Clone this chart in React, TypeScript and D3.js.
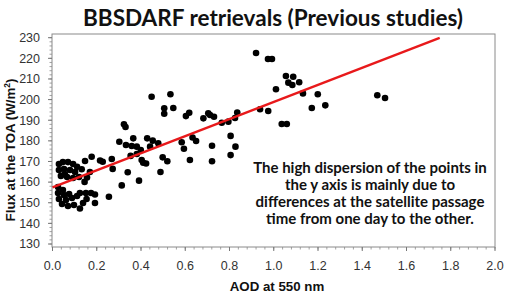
import React from "react";
import * as d3 from "d3";

// AOD at 550 nm (x) and TOA flux in W/m² (y) for each retrieval
const aod = [
  0.92, 0.974, 0.992, 1.055, 1.088, 1.066, 1.084, 1.115, 1.01, 1.132, 1.199, 1.172, 1.233, 0.975, 0.938, 1.036, 1.059, 1.468, 1.503,
  0.765, 0.795, 0.825, 0.835, 0.682, 0.704, 0.712, 0.73, 0.603, 0.618, 0.505, 0.505, 0.546, 0.533, 0.448,
  0.805, 0.827, 0.805, 0.721, 0.721, 0.584, 0.594, 0.633, 0.649, 0.621, 0.498, 0.519, 0.488,
  0.323, 0.33, 0.302, 0.365, 0.332, 0.358, 0.381, 0.428, 0.453, 0.478, 0.441, 0.399, 0.353, 0.381, 0.403, 0.41, 0.423,
  0.268, 0.272, 0.34, 0.391, 0.313, 0.255,
  0.177, 0.147, 0.215, 0.227, 0.169, 0.156, 0.145, 0.132,
  0.029, 0.047, 0.07, 0.093, 0.111, 0.029, 0.052, 0.079, 0.102, 0.038, 0.066, 0.093, 0.12, 0.056,
  0.025, 0.025, 0.029, 0.043, 0.052, 0.061, 0.075, 0.088, 0.097, 0.07, 0.111, 0.124, 0.151, 0.174, 0.192, 0.138, 0.124, 0.192, 0.047, 0.154,
];
const flux = [
  222.6, 219.7, 219.7, 211.4, 211.1, 208.2, 207.1, 208.4, 205.0, 203.0, 202.6, 195.9, 197.2, 194.5, 195.3, 188.2, 188.2, 202.1, 200.8,
  188.8, 189.3, 191.1, 193.7, 190.9, 193.4, 192.5, 191.7, 192.0, 193.6, 195.8, 193.1, 195.9, 202.6, 201.4,
  182.4, 177.2, 173.1, 177.6, 170.1, 179.3, 176.2, 181.6, 179.9, 170.7, 172.0, 170.1, 164.9,
  188.0, 186.7, 179.6, 181.2, 178.0, 177.5, 177.2, 181.2, 180.1, 178.8, 177.2, 175.6, 172.7, 173.6, 170.7, 169.4, 169.0,
  171.2, 166.4, 164.8, 160.7, 158.4, 152.9,
  172.3, 170.2, 170.5, 169.9, 164.9, 162.2, 160.1, 166.2,
  168.8, 169.7, 169.7, 168.8, 167.4, 165.9, 166.3, 165.9, 164.9, 163.0, 162.5, 162.0, 162.5, 163.9,
  157.6, 154.7, 151.8, 149.4, 153.7, 151.3, 154.2, 152.3, 148.9, 148.4, 153.3, 154.7, 154.7, 154.7, 154.0, 149.9, 147.2, 149.9, 156.2, 151.8,
];

// Linear fit drawn over the data
const fitIntercept = 157.5;
const fitSlope = 41.4;
const fitRange = [0, 1.75];

const xTicks = [0, 0.2, 0.4, 0.6, 0.8, 1.0, 1.2, 1.4, 1.6, 1.8, 2.0];
const yTicks = [130, 140, 150, 160, 170, 180, 190, 200, 210, 220, 230];

const title = "BBSDARF retrievals (Previous studies)";
const xTitle = "AOD at 550 nm";
const noteLines = [
  "The high dispersion of the points in",
  "the y axis is mainly due to",
  "differences at the satellite passage",
  "time from one day to the other.",
];

export default function App() {
  const W = 507;
  const H = 295;
  const frame = { left: 52, right: 495, top: 34, bottom: 247 };
  const x = d3.scaleLinear().domain([0, 2]).range([52.5, 495]);
  const y = d3.scaleLinear().domain([130, 230]).range([244, 37.7]);

  const xMinor = d3.range(0, 2.0001, 0.04);
  const yMinor = d3.range(130, 230.001, 2);

  const fitLine = d3
    .line<number>()
    .x((d) => x(d))
    .y((d) => y(fitIntercept + fitSlope * d));

  const axisFont = "'Liberation Sans', Arial, sans-serif";
  const titleFont = "Lato, 'Open Sans', sans-serif";

  return (
    <svg width={W} height={H} style={{ position: "absolute", left: 0, top: 0, background: "#fff" }}>
      <rect width={W} height={H} fill="#fff" />
      <text
        x={273}
        y={26}
        textAnchor="middle"
        fontFamily={titleFont}
        fontWeight={700}
        fontSize={22}
        textLength={380}
        lengthAdjust="spacingAndGlyphs"
        fill="#111"
      >
        {title}
      </text>

      {/* plot frame */}
      <rect
        x={frame.left}
        y={frame.top}
        width={frame.right - frame.left}
        height={frame.bottom - frame.top}
        fill="none"
        stroke="#8a8a8a"
        strokeWidth={1}
      />

      {/* y ticks */}
      {yMinor.map((v) => (
        <line key={"ym" + v} x1={frame.left - 2.5} x2={frame.left} y1={y(v)} y2={y(v)} stroke="#8a8a8a" strokeWidth={0.8} />
      ))}
      {yTicks.map((v) => (
        <g key={"y" + v}>
          <line x1={frame.left - 4} x2={frame.left} y1={y(v)} y2={y(v)} stroke="#777" strokeWidth={1} />
          <text x={40} y={y(v) + 4.3} textAnchor="end" fontFamily={axisFont} fontSize={12.5} fill="#333">
            {v}
          </text>
        </g>
      ))}

      {/* x ticks */}
      {xMinor.map((v) => (
        <line key={"xm" + v} x1={x(v)} x2={x(v)} y1={frame.bottom} y2={frame.bottom + 2.5} stroke="#8a8a8a" strokeWidth={0.8} />
      ))}
      {xTicks.map((v) => (
        <g key={"x" + v}>
          <line x1={x(v)} x2={x(v)} y1={frame.bottom} y2={frame.bottom + 4} stroke="#777" strokeWidth={1} />
          <text x={x(v)} y={269.5} textAnchor="middle" fontFamily={axisFont} fontSize={12.5} fill="#333">
            {v.toFixed(1)}
          </text>
        </g>
      ))}

      {/* axis titles */}
      <text x={277} y={290.5} textAnchor="middle" fontFamily={axisFont} fontWeight={700} fontSize={13.3} fill="#111">
        {xTitle}
      </text>
      <text
        transform={`translate(15,150) rotate(-90)`}
        textAnchor="middle"
        fontFamily={axisFont}
        fontWeight={700}
        fontSize={13.3}
        fill="#111"
      >
        Flux at the TOA (W/m<tspan baselineShift="super" fontSize={8.5}>2</tspan>)
      </text>

      {/* points */}
      {aod.map((a, i) => (
        <circle key={"p" + i} cx={x(a)} cy={y(flux[i])} r={3.3} fill="#000" />
      ))}

      {/* regression line */}
      <path d={fitLine(fitRange) || ""} stroke="#e8191b" strokeWidth={2.4} fill="none" />

      {/* annotation */}
      {noteLines.map((t, i) => (
        <text
          key={"n" + i}
          x={370}
          y={173 + i * 17}
          textAnchor="middle"
          fontFamily={titleFont}
          fontWeight={700}
          fontSize={15}
          fill="#111"
        >
          {t}
        </text>
      ))}
    </svg>
  );
}
